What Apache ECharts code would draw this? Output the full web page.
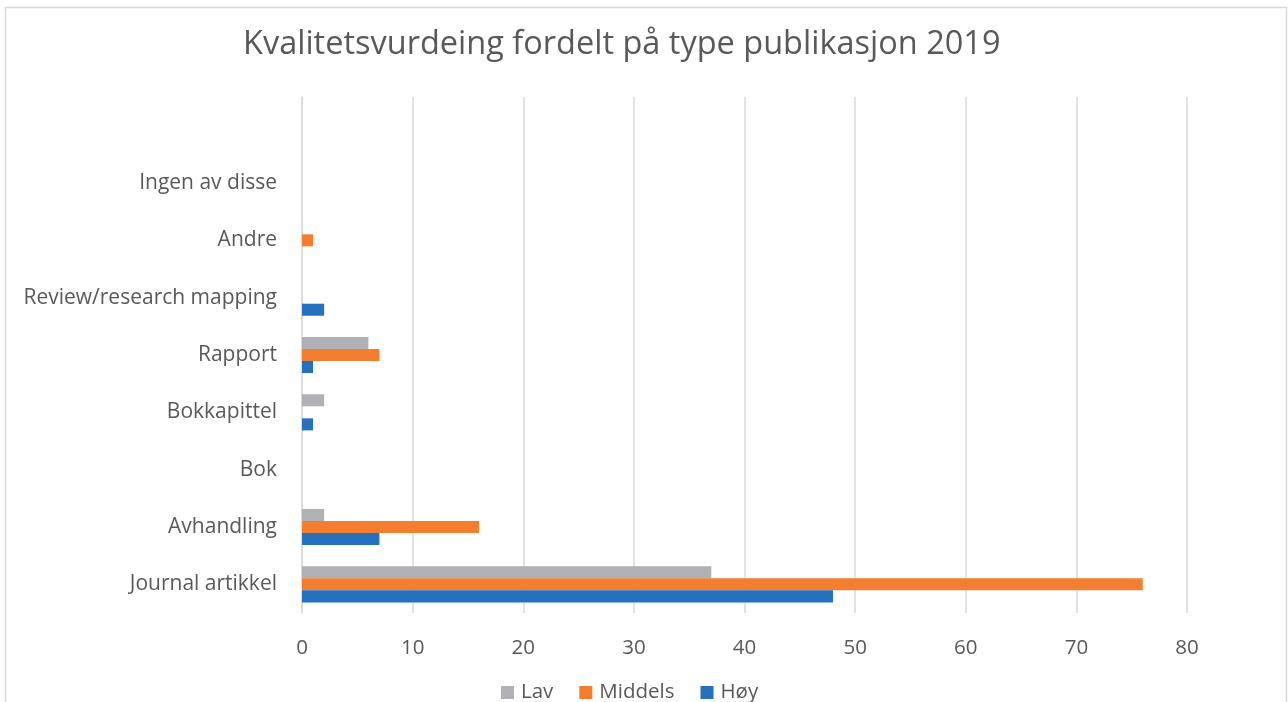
<!DOCTYPE html>
<html><head><meta charset="utf-8">
<script src="https://cdn.jsdelivr.net/npm/echarts@6/dist/echarts.min.js"></script>
<style>html,body{margin:0;padding:0;background:#fff}#c{width:1288px;height:702px}</style>
</head><body><div id="c"></div>
<script>
const categories = ['Journal artikkel','Avhandling','Bok','Bokkapittel','Rapport','Review/research mapping','Andre','Ingen av disse',''];
const lav = [37, 2, 0, 2, 6, 0, 0, 0, null];
const middels = [76, 16, 0, 0, 7, 0, 1, 0, null];
const hoy = [48, 7, 0, 1, 1, 2, 0, 0, null];
const xTicks = [0,10,20,30,40,50,60,70,80];

const font = '"Open Sans", "Noto Sans", sans-serif';
const txt = '#595959';
const chart = echarts.init(document.getElementById('c'));
const barStyle = c => ({color: c, borderWidth: 0});
chart.setOption({
  animation: false,
  backgroundColor: '#fff',
  graphic: [{type:'rect', shape:{x:5.5,y:7.5,width:1281,height:700}, style:{fill:null, stroke:'#d9d9d9', lineWidth:1.5}, silent:true}],
  title: {text: 'Kvalitetsvurdeing fordelt på type publikasjon 2019', left: 238, top: 23,
    textStyle: {fontFamily: font, fontSize: 32.5, fontWeight: 'normal', color: txt}},
  legend: {data: ['Lav','Middels','Høy'], top: 677, left: 496, itemWidth: 13, itemHeight: 13, itemGap: 26,
    icon: 'rect', textStyle: {fontFamily: font, fontSize: 20.5, color: txt, padding: [0,0,0,2]}},
  grid: {left: 302, right: 101, top: 97, bottom: 89},
  xAxis: {type: 'value', min: xTicks[0], max: xTicks[xTicks.length-1], interval: 10,
    axisLine: {show:false}, axisTick: {show:false},
    splitLine: {lineStyle: {color: '#d9d9d9', width: 1.5}},
    axisLabel: {fontFamily: font, fontSize: 20.5, color: txt, margin: 25}},
  yAxis: {type: 'category', data: categories,
    axisLine: {show: true, lineStyle: {color: '#d9d9d9', width: 1.5}}, axisTick: {show:false},
    axisLabel: {fontFamily: font, fontSize: 21, color: txt, margin: 25}},
  series: [
    {name: 'Lav', type: 'bar', data: lav, itemStyle: barStyle('#b0b1b5'), barGap: '0%', barCategoryGap: '37%'},
    {name: 'Middels', type: 'bar', data: middels, itemStyle: barStyle('#f47e30'), barGap: '0%', barCategoryGap: '37%'},
    {name: 'Høy', type: 'bar', data: hoy, itemStyle: barStyle('#2671be'), barGap: '0%', barCategoryGap: '37%'}
  ]
});
</script></body></html>
